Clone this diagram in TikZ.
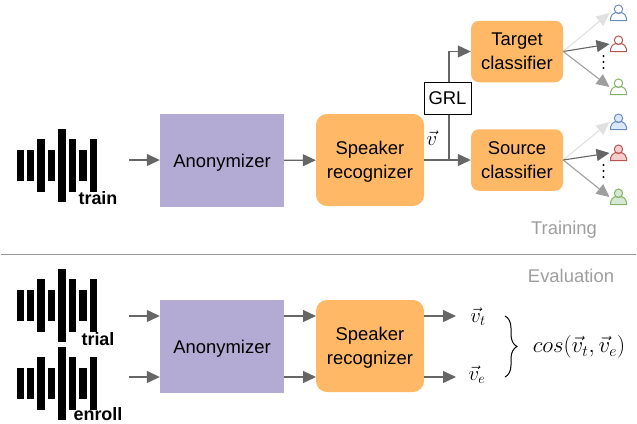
\documentclass[tikz,border=0pt]{standalone}
\usepackage{fontspec}
\setmainfont{Liberation Sans}
\usetikzlibrary{arrows.meta,decorations.pathreplacing}
\definecolor{anon}{HTML}{B3ABD4}
\definecolor{rec}{HTML}{FFB966}
\definecolor{ublue}{HTML}{6C8EBF}
\definecolor{ured}{HTML}{B85450}
\definecolor{ugreen}{HTML}{82B366}
\definecolor{fblue}{HTML}{DAE8FC}
\definecolor{fred}{HTML}{F8CECC}
\definecolor{fgreen}{HTML}{D5E8D4}
\newcommand{\wave}[1]{%
 \begin{scope}[shift={(0,#1)}]
 \foreach \cx/\h in {20.5/15.5,30.5/15.5,41/26.5,51.5/15.5,62/36.5,72.5/26.5,83/15.5,93.5/26.5}{
  \fill[black] (\cx-3.7,-\h) rectangle (\cx+3.7,\h);}
 \end{scope}}
\newcommand{\usericon}[5]{% name, x, y, stroke, fill
 \begin{scope}[shift={(#2,#3)}]
 \coordinate (#1) at (-9,9);
 \draw[#4,fill=#5,line width=1pt] (0,5.2) circle (4.2);
 \draw[#4,fill=#5,line width=1pt] (-8,16.5) -- (-8,14) .. controls (-8,11) and (-5,9.5) .. (-3.2,8.6) .. controls (-1.5,9.8) and (1.5,9.8) .. (3.2,8.6) .. controls (5,9.5) and (8,11) .. (8,14) -- (8,16.5) -- cycle;
 \end{scope}}
\newcommand{\lowertext}{\rule{0pt}{17bp}}
\tikzset{
 x=1bp,y=-1bp,
 flow/.style={draw=black!60,line width=1.1pt,-{Triangle[length=13bp,width=12bp,fill=black!60]}},
 flowlight/.style={draw=black!12,line width=1.1pt,-{Triangle[length=13bp,width=12bp,fill=black!12]}},
 flowmid/.style={draw=black!38,line width=1.1pt,-{Triangle[length=13bp,width=12bp,fill=black!38]}},
 anonbox/.style={fill=anon,minimum width=124bp,minimum height=93bp,inner sep=0pt,font=\fontsize{18.5}{24}\selectfont},
 recbox/.style={fill=rec,rounded corners=11bp,minimum width=108bp,minimum height=92bp,align=center,inner sep=0pt,font=\fontsize{18.5}{24}\selectfont},
 clsbox/.style={fill=rec,rounded corners=8bp,minimum width=92bp,minimum height=61.5bp,align=center,inner sep=0pt,font=\fontsize{18.5}{24}\selectfont},
 wavelabel/.style={font=\bfseries\fontsize{18}{20}\selectfont,inner sep=0pt},
 graytext/.style={text=black!38,font=\fontsize{18.5}{22}\selectfont,inner sep=0pt},
 mathlabel/.style={inner sep=0pt,font=\fontsize{20}{24}\selectfont},
}
\begin{document}
\begin{tikzpicture}
\useasboundingbox (0,0) rectangle (637,423);
\wave{165.5}
\wave{305.5}
\wave{383.5}
\node[wavelabel] (ltrain) at (98,198) {train};
\node[wavelabel] (ltrial) at (98,339) {trial};
\node[wavelabel] (lenroll) at (98,414) {enroll};

\coordinate (in1) at (129,160);
\coordinate (in2) at (129,316);
\coordinate (in3) at (129,377);

\node[anonbox] (an1) at (222,160.5) {\lowertext Anonymizer};
\node[recbox] (sr1) at (370,160) {\lowertext Speaker\\recognizer};
\node[clsbox] (tc) at (517,51.5) {Target\\classifier};
\node[clsbox] (sc) at (517,160) {Source\\classifier};
\node[draw=black,line width=1pt,fill=white,minimum width=47bp,minimum height=32bp,inner sep=0pt,font=\fontsize{18.5}{22}\selectfont] (grl) at (447.5,98) {GRL};

\coordinate (j) at (449,160);
\draw[flow] (in1) -- (an1.west |- in1);
\draw[flow] (an1) -- (sr1);
\draw[flow] (sr1) -- (sc);
\draw[draw=black!60,line width=1.1pt] (j) -- (j |- grl.south);
\draw[flow] (j |- grl.north) |- (tc.west);
\node[mathlabel] (v) at (432,138) {$\vec{v}$};

\usericon{ua}{618.5}{4}{ublue}{white}
\usericon{ub}{618.5}{35}{ured}{white}
\usericon{uc}{618.5}{78}{ugreen}{white}
\usericon{ud}{618.5}{113}{ublue}{fblue}
\usericon{ue}{618.5}{144}{ured}{fred}
\usericon{uf}{618.5}{188}{ugreen}{fgreen}

\draw[flowlight] (tc.east) -- (ua);
\draw[flow] (tc.east) -- (ub);
\draw[flowmid] (tc.east) -- (uc);
\draw[flowlight] (sc.east) -- (ud);
\draw[flow] (sc.east) -- (ue);
\draw[flowmid] (sc.east) -- (uf);

\foreach \yy in {56,62,68,165,171,177}{\fill[black] (603.5,\yy) circle (1.2);}

\node[graytext] (train) at (564,230) {Training};
\node[inner sep=0pt] (ruleL) at (0,254) {};
\node[inner sep=0pt] (ruleR) at (637,254) {};
\draw[black!40,line width=0.9pt] (ruleL) -- (ruleR);
\node[graytext] (eval) at (571,276) {Evaluation};

\node[anonbox] (an2) at (222,346.5) {\lowertext Anonymizer};
\node[recbox] (sr2) at (370,346) {\lowertext Speaker\\recognizer};
\draw[flow] (in2) -- (an2.west |- in2);
\draw[flow] (in3) -- (an2.west |- in3);
\coordinate (a1) at (284,316);
\coordinate (a2) at (316,316);
\coordinate (a3) at (284,377);
\coordinate (a4) at (316,377);
\draw[flow] (a1) -- (a2);
\draw[flow] (a3) -- (a4);
\coordinate (o1) at (424,316);
\coordinate (o2) at (456,316);
\coordinate (o3) at (424,377);
\coordinate (o4) at (456,377);
\draw[flow] (o1) -- (o2);
\draw[flow] (o3) -- (o4);
\node[mathlabel] (vt) at (478,317) {$\vec{v}_t$};
\node[mathlabel] (ve) at (477,375) {$\vec{v}_e$};
\coordinate (b1) at (505,316);
\coordinate (b2) at (505,377);
\draw[black,line width=1pt,decorate,decoration={brace,amplitude=12bp}] (b1) -- (b2);
\node[mathlabel,transform shape=false] (cos) at (579,347) {\scalebox{1.1}{$cos(\vec{v}_t,\vec{v}_e)$}};
\end{tikzpicture}
\end{document}
